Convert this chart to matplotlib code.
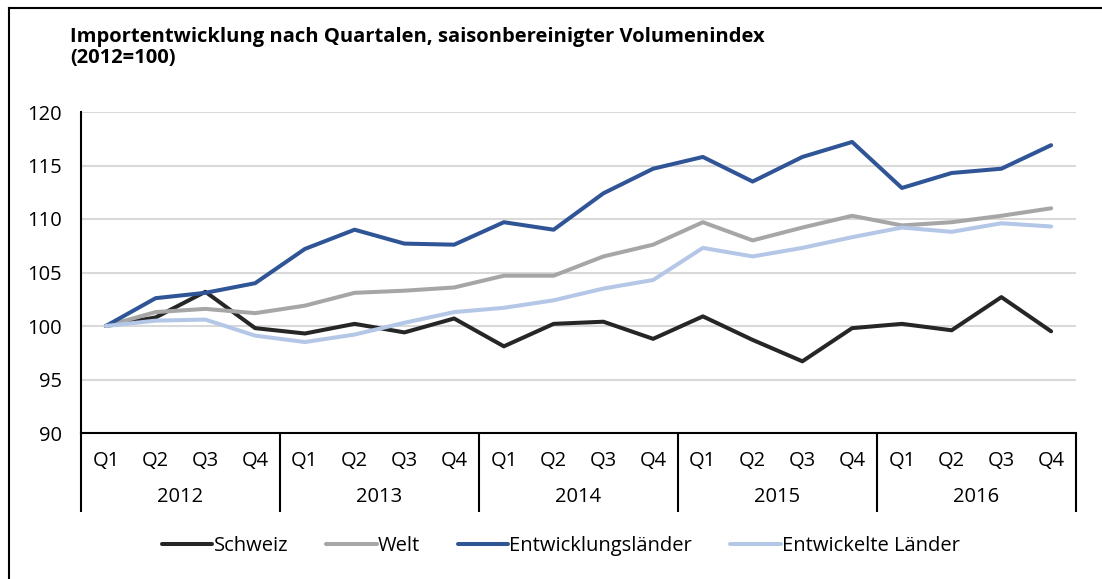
import matplotlib.pyplot as plt
from matplotlib.lines import Line2D

plt.rcParams['font.family'] = ['Open Sans', 'DejaVu Sans']

# Data
years = ["2012", "2013", "2014", "2015", "2016"]
quarters = ["Q1", "Q2", "Q3", "Q4"]
schweiz = [100, 100.8, 103.2, 99.8, 99.3, 100.2, 99.4, 100.7, 98.1, 100.2,
           100.4, 98.8, 100.9, 98.7, 96.7, 99.8, 100.2, 99.6, 102.7, 99.5]
welt = [100, 101.3, 101.6, 101.2, 101.9, 103.1, 103.3, 103.6, 104.7, 104.7,
        106.5, 107.6, 109.7, 108.0, 109.2, 110.3, 109.4, 109.7, 110.3, 111.0]
entwicklungslaender = [100, 102.6, 103.1, 104.0, 107.2, 109.0, 107.7, 107.6, 109.7, 109.0,
                       112.4, 114.7, 115.8, 113.5, 115.8, 117.2, 112.9, 114.3, 114.7, 116.9]
entwickelte = [100, 100.5, 100.6, 99.1, 98.5, 99.2, 100.3, 101.3, 101.7, 102.4,
               103.5, 104.3, 107.3, 106.5, 107.3, 108.3, 109.2, 108.8, 109.6, 109.3]

series = [
    ("Schweiz", schweiz, "#262626"),
    ("Welt", welt, "#a6a6a6"),
    ("Entwicklungsländer", entwicklungslaender, "#2f5597"),
    ("Entwickelte Länder", entwickelte, "#b4c7e7"),
]

FS = 14.5

fig = plt.figure(figsize=(11.02, 5.79), dpi=100)
ax = fig.add_axes([81 / 1102, 1 - 433 / 579, (1076 - 81) / 1102, (433 - 112) / 579])

n = len(years) * len(quarters)
x = list(range(n))
for name, vals, color in series:
    ax.plot(x, vals, color=color, linewidth=2.9, label=name, solid_capstyle="round")

# y axis
ax.set_ylim(90, 120)
ax.set_yticks(range(90, 121, 5))
ax.tick_params(axis="y", length=0, labelsize=FS, pad=14)
ax.yaxis.grid(True, color="#d9d9d9", linewidth=1.5)
ax.set_axisbelow(True)
for s in ["top", "right"]:
    ax.spines[s].set_visible(False)
ax.spines["left"].set_linewidth(1.5)
ax.spines["bottom"].set_linewidth(1.5)

# x axis: quarters, separators, years
ax.set_xlim(-0.5, n - 0.5)
ax.set_xticks(x)
ax.set_xticklabels(quarters * len(years))
ax.tick_params(axis="x", which="major", length=0, labelsize=FS, pad=13)
seps = [i * len(quarters) - 0.5 for i in range(len(years) + 1)]
ax.set_xticks(seps, minor=True)
ax.tick_params(axis="x", which="minor", length=57, width=1.5, color="black")

trans = ax.get_xaxis_transform()
for i, yr in enumerate(years):
    ax.text(i * len(quarters) + 1.5, -0.199, yr, transform=trans,
            ha="center", va="center", fontsize=FS)

# title
fig.text(70 / 1102, 1 - 47.5 / 579,
         "Importentwicklung nach Quartalen, saisonbereinigter Volumenindex\n(2012=100)",
         ha="left", va="center", fontsize=14.5, fontweight="bold", linespacing=1.05)

# legend
fig.legend(loc="center", bbox_to_anchor=(0.509, 1 - 546 / 579), ncol=4, frameon=False,
           fontsize=FS, handlelength=2.5, handletextpad=0.05, columnspacing=1.9)

# figure border (top and left)
fig.add_artist(Line2D([9 / 1102, 9 / 1102], [0, 1 - 8 / 579], color="black", linewidth=1.5,
                      transform=fig.transFigure))
fig.add_artist(Line2D([9 / 1102, 1], [1 - 8 / 579, 1 - 8 / 579], color="black", linewidth=1.5,
                      transform=fig.transFigure))

fig.savefig("out.png", dpi=100)
